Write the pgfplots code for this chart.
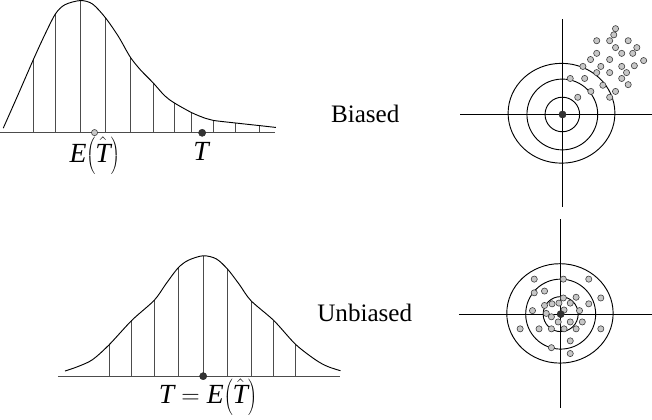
\documentclass[border=0pt]{standalone}
\usepackage{fontspec}
\setmainfont{Liberation Serif}
\usepackage{pgfplots}
\pgfplotsset{compat=1.18}

\newcommand{\mi}[1]{\textit{#1}}
\newcommand{\ET}{\mi{E}\mathopen{}\left(\hat{\mi{T}}\right)\mathclose{}}

\begin{document}
\begin{tikzpicture}
\begin{axis}[
    scale only axis,
    width=652bp, height=412bp,
    xmin=0, xmax=652, ymin=0, ymax=412,
    y dir=reverse,
    hide axis, clip=false,
    unbounded coords=jump,
]

% ---------- biased sampling distribution ----------
\addplot[black!70, line width=0.9bp] coordinates {(17.3,134.5) (284,134.5)};
\addplot[black!70, line width=0.8bp] coordinates {
    (49.3,134.5) (49.3,63.3) (49.3,nan)
    (70.7,134.5) (70.7,19) (70.7,nan)
    (95,134.5) (95,6) (95,nan)
    (119.3,134.5) (119.3,22.7) (119.3,nan)
    (143.3,134.5) (143.3,60.7) (143.3,nan)
    (165.7,134.5) (165.7,86) (165.7,nan)
    (186,134.5) (186,105.3) (186,nan)
    (203.3,134.5) (203.3,115) (203.3,nan)
    (224.3,134.5) (224.3,122.5) (224.3,nan)
    (246,134.5) (246,125) (246,nan)
    (269,134.5) (269,127.5)
};
\addplot[black, line width=0.9bp, smooth] coordinates {
    (20,130) (33.3,100) (49.3,63.3) (60,40) (70.7,19) (80,10) (95,6)
    (106.7,9.3) (119.3,22.7) (132,41) (143.3,60.7) (153.3,73.3)
    (165.7,86) (176.7,98.3) (186,105.3) (203.3,115) (216.7,120.5)
    (224.3,122.5) (246,125) (269,127.5) (285,129.3)
};
\addplot[only marks, mark=*, mark size=3bp,
    mark options={draw=black!75, fill=black!22, line width=0.6bp}]
    coordinates {(108.7,134.3)};
\addplot[only marks, mark=*, mark size=3.5bp,
    mark options={draw=black!85, fill=black!80}]
    coordinates {(213.3,134.5)};
\node[font=\fontsize{27}{30}\selectfont] at (108.8,156.7) {$\ET$};
\node[anchor=base, font=\fontsize{27}{30}\selectfont] at (213,161.7) {\mi{T}};

% ---------- unbiased sampling distribution ----------
\addplot[black!70, line width=0.9bp] coordinates {(73,371) (347.7,371)};
\addplot[black!70, line width=0.8bp] coordinates {
    (122.7,371) (122.7,340.7) (122.7,nan)
    (145,371) (145,316.7) (145,nan)
    (166.7,371) (166.7,297.3) (166.7,nan)
    (190,371) (190,265.7) (190,nan)
    (214.3,371) (214.3,254) (214.3,nan)
    (238,371) (238,267) (238,nan)
    (260.7,371) (260.7,297.6) (260.7,nan)
    (283,371) (283,317) (283,nan)
    (304,371) (304,340)
};
\addplot[black, line width=0.9bp, smooth] coordinates {
    (80,366) (93,361.5) (106.7,355) (122.7,340.7) (145,316.7)
    (166.7,297.3) (178,281.5) (190,265.7) (200,258.3) (214.3,254)
    (227,257) (238,267) (249.5,282) (260.7,297.6) (283,317)
    (304,340) (323.3,355) (335,361.5) (347.7,365.7)
};
\addplot[only marks, mark=*, mark size=3.5bp,
    mark options={draw=black!85, fill=black!80}]
    coordinates {(214.3,371)};
\node[font=\fontsize{27}{30}\selectfont] at (219,391.5) {$\mi{T} = \ET$};

% ---------- labels ----------
\node[anchor=base west, font=\fontsize{24.5}{28}\selectfont] at (335,124.3) {Biased};
\node[anchor=base west, font=\fontsize{24.5}{28}\selectfont] at (321.7,318.3) {Unbiased};

% ---------- biased target ----------
\addplot[only marks, mark=o, mark size=48.5bp,
    mark options={xscale=1.07, line width=0.9bp, draw=black}]
    coordinates {(562.5,115.5)};
\addplot[only marks, mark=o, mark size=34.4bp,
    mark options={line width=0.9bp, draw=black}]
    coordinates {(563.3,116.7)};
\addplot[only marks, mark=o, mark size=16.8bp,
    mark options={line width=0.9bp, draw=black}]
    coordinates {(563.3,116.7)};
\addplot[black, line width=0.9bp] coordinates {(563.5,24) (563.5,206.7)};
\addplot[black, line width=0.9bp] coordinates {(464,116.7) (650,116.7)};
\addplot[only marks, mark=*, mark size=3bp,
    mark options={draw=black!75, fill=black!22, line width=0.6bp}]
    coordinates {
    (615,33.3) (613.3,39.3) (596.7,45) (609.3,45) (627.3,45) (615,51.7)
    (635.7,51.7) (596.7,57.3) (621,57.3) (631.7,57.3) (590.7,63.3)
    (609.3,63.3) (642.3,64.3) (583.3,70) (600.7,70) (621,70) (633.3,69.3)
    (596.7,76) (609.3,76) (625.7,76) (571,81.7) (585,81.7) (621,81.7)
    (602.7,88.3) (627.3,87.7) (591,94.3) (615,94.3) (578.3,100) (609.3,100)
};
\addplot[only marks, mark=*, mark size=3.5bp,
    mark options={draw=black!85, fill=black!80}]
    coordinates {(563.5,116.7)};

% ---------- unbiased target ----------
\addplot[only marks, mark=o, mark size=48.3bp,
    mark options={xscale=1.07, line width=0.9bp, draw=black}]
    coordinates {(561,310)};
\addplot[only marks, mark=o, mark size=34bp,
    mark options={line width=0.9bp, draw=black}]
    coordinates {(561.7,310.7)};
\addplot[only marks, mark=o, mark size=17bp,
    mark options={line width=0.9bp, draw=black}]
    coordinates {(561.7,310.7)};
\addplot[black, line width=0.9bp] coordinates {(561.5,218.3) (561.5,401.7)};
\addplot[black, line width=0.9bp] coordinates {(462.7,310.7) (650,310.7)};
\addplot[only marks, mark=*, mark size=3bp,
    mark options={draw=black!75, fill=black!22, line width=0.6bp}]
    coordinates {
    (536,276.7) (564.3,276.7) (589,276.7)
    (536,290) (546,288.3)
    (564.3,295) (576.7,294.3) (600.7,295)
    (546,302.3) (553.3,300.7) (560,300) (571,300) (589,300.7)
    (534.3,307.3) (580,307.3) (565,306.7)
    (547.7,310) (552.7,313.3)
    (559.3,318.3) (571,318.3) (582.7,318.3)
    (522.3,325) (540.7,325) (552.7,325) (565,325) (576.7,325) (600.7,325)
    (571,336.7) (552.7,343.3) (571,349)
};
\addplot[only marks, mark=*, mark size=3.5bp,
    mark options={draw=black!85, fill=black!80}]
    coordinates {(561.7,310.7)};

\end{axis}
\end{tikzpicture}
\end{document}
